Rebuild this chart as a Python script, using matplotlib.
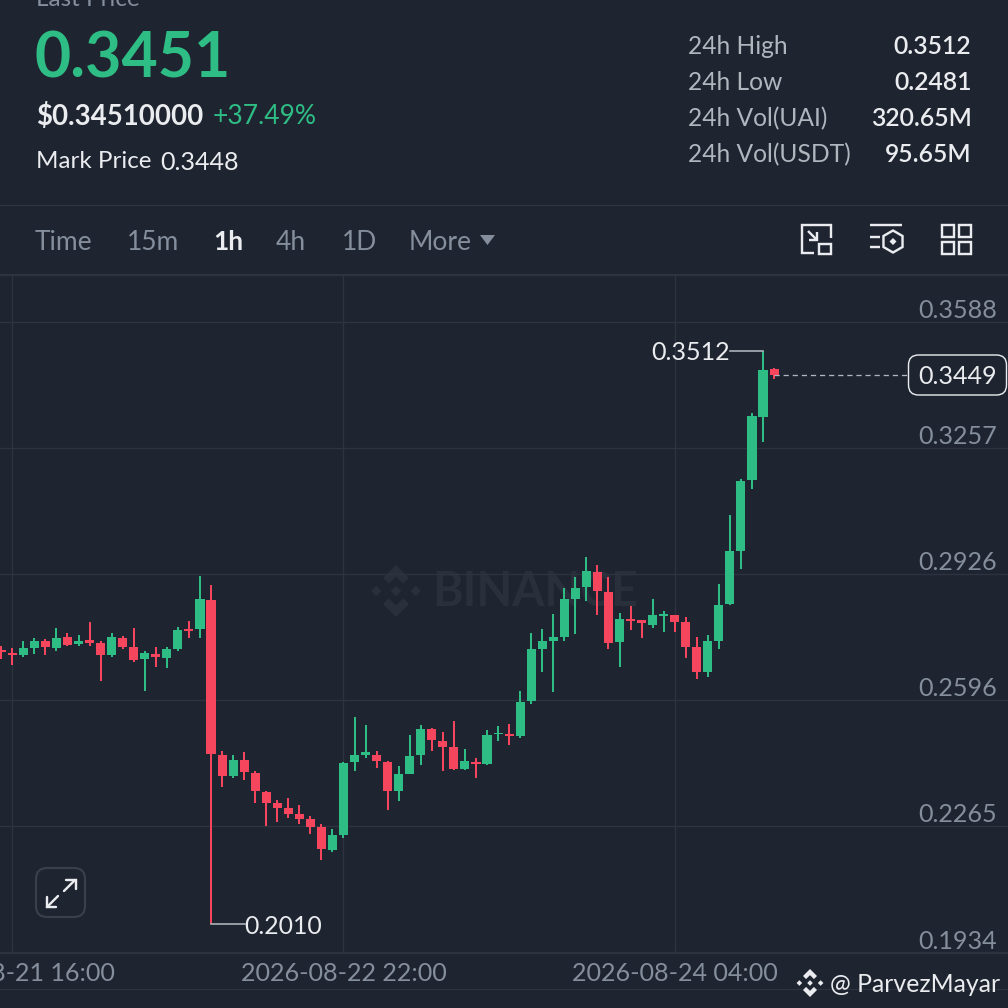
import numpy as np
import matplotlib
matplotlib.use("Agg")
import matplotlib.pyplot as plt
from matplotlib.patches import Polygon, Rectangle, FancyBboxPatch, RegularPolygon

plt.rcParams['font.family'] = ['Lato', 'DejaVu Sans']

# ---- data ----
hours = np.arange(-1, 70)
highs = [.2737,.2732,.2752,.2758,.2756,.2785,.2772,.2766,.2801,.2751,.2772,.2765,.2785,.2724,.2735,.2734,.2787,.2803,.2922,.2898,
         .2463,.2453,.2459,.2411,.2359,.2335,.2340,.2322,.2292,.2270,.2257,.2435,.2551,.2530,.2462,.2436,.2423,.2505,.2531,.2524,
         .2513,.2541,.2468,.2443,.2517,.2528,.2534,.2621,.2772,.2782,.2821,.2889,.2920,.2971,.2951,.2918,.2824,.2843,.2807,.2862,
         .2830,.2820,.2814,.2761,.2768,.2901,.3082,.3175,.3349,.3512,.3468]
lows = [.2704,.2689,.2710,.2717,.2713,.2724,.2739,.2737,.2739,.2645,.2708,.2731,.2695,.2621,.2682,.2681,.2726,.2759,.2759,.2010,
        .2367,.2393,.2386,.2327,.2267,.2277,.2288,.2272,.2245,.2178,.2198,.2235,.2409,.2443,.2419,.2309,.2331,.2401,.2427,.2463,
        .2409,.2413,.2412,.2393,.2427,.2488,.2478,.2498,.2586,.2669,.2616,.2751,.2769,.2855,.2818,.2731,.2682,.2780,.2759,.2786,
        .2775,.2774,.2707,.2651,.2657,.2730,.2846,.2941,.3149,.3274,.3438]
opens = [.2728,.2720,.2714,.2732,.2750,.2732,.2762,.2742,.2754,.2746,.2713,.2760,.2735,.2703,.2718,.2706,.2729,.2782,.2782,.2858,
         .2452,.2397,.2440,.2405,.2355,.2325,.2313,.2297,.2284,.2263,.2204,.2243,.2433,.2453,.2453,.2435,.2358,.2403,.2451,.2520,
         .2490,.2472,.2416,.2433,.2428,.2506,.2507,.2503,.2593,.2731,.2752,.2762,.2861,.2892,.2931,.2879,.2748,.2810,.2806,.2793,
         .2817,.2819,.2801,.2735,.2670,.2752,.2847,.2986,.3173,.3339,.3463]
closes = [.2721,.2715,.2733,.2750,.2734,.2759,.2741,.2752,.2747,.2713,.2761,.2735,.2702,.2719,.2710,.2731,.2781,.2776,.2862,.2455,
          .2398,.2439,.2407,.2357,.2327,.2314,.2298,.2284,.2263,.2206,.2243,.2430,.2452,.2459,.2436,.2357,.2402,.2450,.2521,.2491,
          .2472,.2415,.2436,.2428,.2504,.2510,.2502,.2591,.2730,.2751,.2761,.2860,.2891,.2934,.2881,.2746,.2810,.2804,.2797,.2819,
          .2822,.2800,.2735,.2670,.2751,.2845,.2987,.3171,.3340,.3461,.3449]
price_ticks = [0.3588, 0.3257, 0.2926, 0.2596, 0.2265, 0.1934]
price_labels = ['0.3588', '0.3257', '0.2926', '0.2596', '0.2265', '0.1934']
time_ticks = [0, 30, 60]
time_labels = ['2026-08-21 16:00', '2026-08-22 22:00', '2026-08-24 04:00']
last_mark = 0.3449
stats_labels = ['24h High', '24h Low', '24h Vol(UAI)', '24h Vol(USDT)']
stats_values = ['0.3512', '0.2481', '320.65M', '95.65M']
timeframes = ['Time', '15m', '1h', '4h', '1D', 'More']

# ---- palette ----
BG = '#1F2530'; GRID = '#2D333F'; GREEN = '#2EBD85'; RED = '#F6465D'
WHITE = '#EAECEF'; GRAY = '#848E9C'; SOFT = '#B0B6BE'; FAINT = '#2A303B'

fig = plt.figure(figsize=(10.08, 10.08), dpi=100, facecolor=BG)
W = 1008.0
PT = 72 / 100.0  # points per pixel
FS = 18.1

# ---- chart ----
ax = fig.add_axes([0, (W - 953) / W, 1, (953 - 275) / W], facecolor='none', zorder=2)
ax.set_xlim(-1.114, 90.19)
ax.set_ylim(0.19330, 0.37106)
for s in ax.spines.values():
    s.set_visible(False)
ax.set_yticks(price_ticks)
ax.set_yticklabels(price_labels)
ax.set_xticks(time_ticks)
ax.set_xticklabels(time_labels)
ax.grid(True, color=GRID, lw=1.4 * PT, zorder=0)
ax.set_axisbelow(True)
ax.tick_params(axis='y', length=0, labelleft=False, labelright=True, pad=-11 * PT, labelsize=FS, labelcolor=GRAY)
ax.tick_params(axis='x', length=0, pad=9 * PT, labelsize=FS, labelcolor=GRAY)
for lab in ax.get_yticklabels():
    lab.set_ha('right')
    lab.set_va('bottom')

o = np.array(opens); c = np.array(closes); h = np.array(highs); l = np.array(lows)
cols = np.where(c >= o, GREEN, RED)
ax.vlines(hours, l, h, colors=cols, lw=2 * PT, zorder=3)
ax.bar(hours, np.abs(c - o), bottom=np.minimum(o, c), width=0.82, color=cols, lw=0, zorder=4)

# extreme-price callouts
ix_hi = int(np.argmax(h)); ix_lo = int(np.argmin(l))
ax.plot([hours[ix_hi], hours[ix_hi] - 33 / 11.04], [h[ix_hi]] * 2, color=SOFT, lw=1.6 * PT, zorder=5)
ax.plot([hours[ix_lo], hours[ix_lo] + 34 / 11.04], [l[ix_lo]] * 2, color=SOFT, lw=1.6 * PT, zorder=5)
ax.annotate(f'{h[ix_hi]:.4f}', (hours[ix_hi], h[ix_hi]), xytext=(-33 * PT, -2 * PT), textcoords='offset points',
            ha='right', va='center', color=WHITE, fontsize=FS, zorder=6)
ax.annotate(f'{l[ix_lo]:.4f}', (hours[ix_lo], l[ix_lo]), xytext=(33 * PT, -3 * PT), textcoords='offset points',
            ha='left', va='center', color=WHITE, fontsize=17.8, zorder=6)

# last price line
ax.plot([hours[-1], (907 - 12.3) / 11.04], [last_mark] * 2, color=SOFT, lw=1.3 * PT, dashes=(4, 3), zorder=3)

# ---- page furniture, in pixel coordinates ----
ui = fig.add_axes([0, 0, 1, 1], facecolor='none', zorder=1)
ui.set_xlim(0, W); ui.set_ylim(W, 0); ui.axis('off')
top = fig.add_axes([0, 0, 1, 1], facecolor='none', zorder=3)
top.set_xlim(0, W); top.set_ylim(W, 0); top.axis('off')

# last price tag
top.add_patch(FancyBboxPatch((908.5, 355), 98, 40, boxstyle='round,pad=0,rounding_size=10', fc=BG, ec=WHITE, lw=1.4 * PT, zorder=5))
top.text(958, 377, f'{last_mark:.4f}', color=WHITE, fontsize=FS, ha='center', va='center', zorder=6)


def logo(a, cx, cy, r, color, z=1):
    def poly(pts):
        a.add_patch(Polygon([(cx + x * r, cy + y * r) for x, y in pts], closed=True, fc=color, ec='none', zorder=z))
    d = 0.2
    for mx, my in [(0, 0), (-0.76, 0), (0.76, 0)]:
        poly([(mx - d, my), (mx, my - d), (mx + d, my), (mx, my + d)])
    for sgn in (1, -1):
        poly([(0, -1 * sgn), (0.5, -0.5 * sgn), (0.28, -0.28 * sgn), (0, -0.56 * sgn), (-0.28, -0.28 * sgn), (-0.5, -0.5 * sgn)])


logo(ui, 396, 591, 26, FAINT)
ui.text(432, 592, 'BINANCE', color=FAINT, fontsize=33.5, fontweight='bold', ha='left', va='center')

# separators
top.plot([0, W], [205, 205], color=GRID, lw=1.4 * PT)
top.plot([0, W], [275, 275], color=GRID, lw=2.2 * PT)
top.plot([0, W], [953, 953], color=GRID, lw=2.2 * PT)
top.plot([0, W], [989, 989], color=GRID, lw=1.2 * PT)

# header
top.text(36, 0, 'Last Price', color=GRAY, fontsize=17.5, ha='left', va='center')
top.text(35, 59, '0.3451', color=GREEN, fontsize=45, fontweight='bold', ha='left', va='center')
top.text(36, 116, '$0.34510000', color=WHITE, fontsize=19.9, fontweight='bold', ha='left', va='center')
top.text(213, 117, '+37.49%', color=GREEN, fontsize=19, ha='left', va='center')
top.text(36, 162, 'Mark Price', color=WHITE, fontsize=17.4, ha='left', va='center')
top.text(160, 162, '0.3448', color=WHITE, fontsize=FS, ha='left', va='center')

for y, lab, val in zip([47, 83, 119, 155], stats_labels, stats_values):
    top.text(688, y, lab, color=SOFT, fontsize=17.7, ha='left', va='center')
    top.text(971.5, y, val, color=WHITE, fontsize=17.8, fontweight=600, ha='right', va='center')

# interval row
for x, lab in zip([35, 127, 213, 276, 342, 409], timeframes):
    active = lab == '1h'
    top.text(x, 242, lab, color=WHITE if active else GRAY, fontsize=19,
             fontweight='bold' if active else 'normal', ha='left', va='center')
top.add_patch(Polygon([(480, 235), (495, 235), (487.5, 245)], closed=True, fc=GRAY, ec='none'))

# right-hand icons
ik = dict(color=WHITE, lw=2.4 * PT, solid_capstyle='butt', solid_joinstyle='miter')
top.plot([831, 831, 801.5, 801.5, 814], [238, 225, 225, 253, 253], **ik)
top.add_patch(Rectangle((819, 243.5), 12, 10, fc='none', ec=WHITE, lw=2.4 * PT))
top.plot([808, 817], [231, 240], **ik)
top.plot([809, 817, 817], [240, 240, 232], **ik)
top.plot([870, 902], [225, 225], **ik)
top.plot([870, 880], [237, 237], **ik)
top.plot([870, 880], [247, 247], **ik)
top.add_patch(RegularPolygon((893, 241.5), 6, radius=11, fc='none', ec=WHITE, lw=2.4 * PT))
top.add_patch(Polygon([(893, 238), (896.5, 241.5), (893, 245), (889.5, 241.5)], closed=True, fc=WHITE, ec='none'))
for x0 in (942, 959):
    for y0 in (225, 242):
        top.add_patch(Rectangle((x0, y0), 12, 11.5, fc='none', ec=WHITE, lw=2.4 * PT))

# expand button
top.add_patch(FancyBboxPatch((36, 868), 49, 49, boxstyle='round,pad=0,rounding_size=11', fc='none', ec='#39404C', lw=2.2 * PT))
ar = dict(color=WHITE, lw=2.4 * PT, solid_capstyle='round', solid_joinstyle='miter')
top.plot([64, 75], [891, 880], **ar)
top.plot([66, 75.5, 75.5], [879.5, 879.5, 889], **ar)
top.plot([47, 58], [907, 896], **ar)
top.plot([46.5, 46.5, 56], [897, 907, 907], **ar)

# footer credit
logo(top, 810, 983, 14, WHITE, z=3)
top.text(830, 984, '@ ParvezMayar', color=WHITE, fontsize=17.9, ha='left', va='center')

fig.savefig('out.png', dpi=100, facecolor=BG)
